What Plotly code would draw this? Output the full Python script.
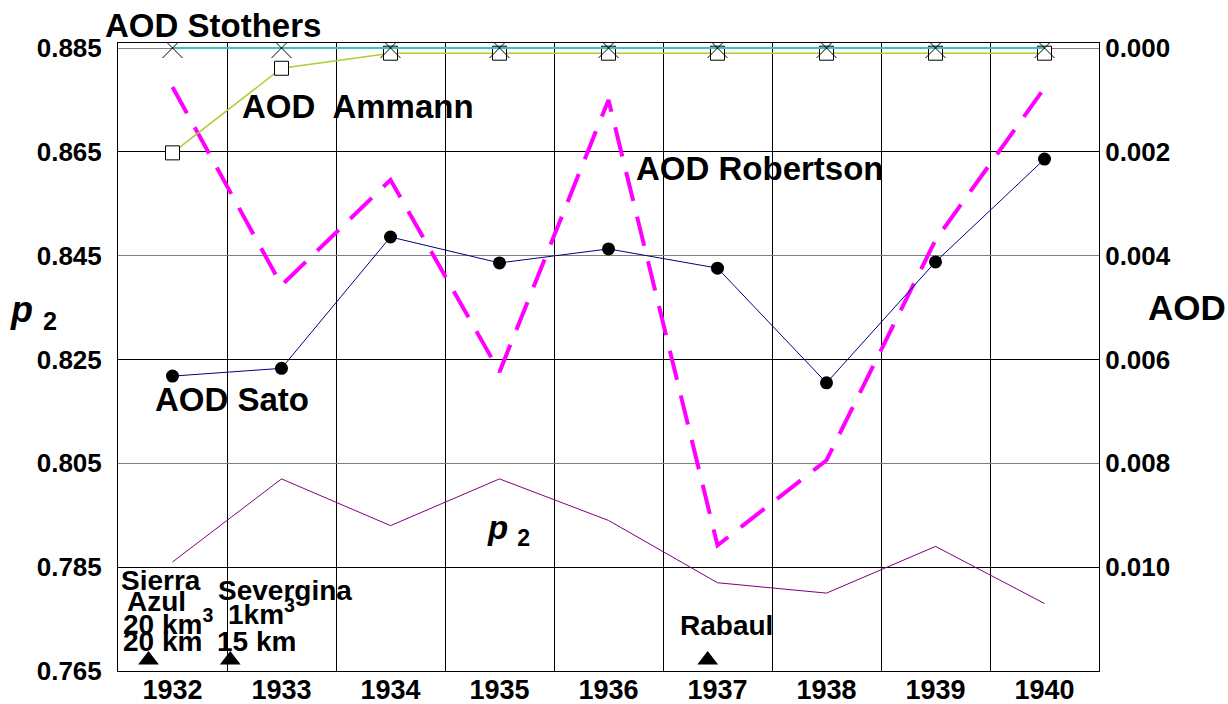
import plotly.graph_objects as go

# ---- data ----
years = [1932, 1933, 1934, 1935, 1936, 1937, 1938, 1939, 1940]

p2 = [0.786, 0.802, 0.793, 0.802, 0.794, 0.782, 0.780, 0.789, 0.778]

aod_sato = [0.00632, 0.00617, 0.00364, 0.00414, 0.00387, 0.00424, 0.00645, 0.00412, 0.00214]
aod_robertson = [0.00075, 0.00457, 0.00254, 0.00624, 0.00100, 0.00958, 0.00794, 0.00370, 0.00077]
aod_ammann = [0.00202, 0.00039, 0.0001, 0.0001, 0.0001, 0.0001, 0.0001, 0.0001, 0.0001]
aod_stothers = [0.0, 0.0, 0.0, 0.0, 0.0, 0.0, 0.0, 0.0, 0.0]

# eruption markers (decimal year) drawn along the bottom of the p2 axis
eruption_names = ["Sierra Azul", "Severgina", "Rabaul"]
eruption_x = [1931.78, 1932.53, 1936.91]
eruption_y = [0.7671, 0.7671, 0.7671]

p2_ticks = [0.765, 0.785, 0.805, 0.825, 0.845, 0.865, 0.885]
aod_ticks = [0.000, 0.002, 0.004, 0.006, 0.008, 0.010]

FONT = "Liberation Sans"

fig = go.Figure()

fig.add_trace(go.Scatter(
    x=years, y=p2, mode="lines", name="p2",
    line=dict(color="#800080", width=1), yaxis="y"))

fig.add_trace(go.Scatter(
    x=years, y=aod_robertson, mode="lines", name="AOD Robertson",
    line=dict(color="#ff00ff", width=4, dash="30px,16px"), yaxis="y2"))

fig.add_trace(go.Scatter(
    x=years, y=aod_sato, mode="lines+markers", name="AOD Sato",
    line=dict(color="#000080", width=1),
    marker=dict(color="black", size=13, symbol="circle"), yaxis="y2"))

fig.add_trace(go.Scatter(
    x=years, y=aod_ammann, mode="lines+markers", name="AOD Ammann",
    line=dict(color="#a8d030", width=1.5),
    marker=dict(color="white", size=14, symbol="square",
                line=dict(color="black", width=1)), yaxis="y2"))

fig.add_trace(go.Scatter(
    x=years, y=aod_stothers, mode="lines+markers", name="AOD Stothers",
    line=dict(color="#40c0c0", width=2),
    marker=dict(color="black", size=20, symbol="x-thin",
                line=dict(color="black", width=1)), yaxis="y2"))

fig.add_trace(go.Scatter(
    x=eruption_x, y=eruption_y, mode="markers", name="eruptions",
    marker=dict(color="black", size=18, symbol="triangle-up"), yaxis="y"))

tick_font = dict(family=FONT, size=26, color="black", weight="bold")

fig.update_layout(
    width=1228, height=704,
    margin=dict(l=118, r=129, t=43, b=33),
    paper_bgcolor="white", plot_bgcolor="white",
    showlegend=False,
    font=dict(family=FONT, color="black"),
    xaxis=dict(
        range=[years[0] - 0.5, years[-1] + 0.5],
        tickmode="array", tickvals=years, ticktext=[str(y) for y in years],
        tickfont=dict(family=FONT, size=27, color="black", weight="bold"),
        showgrid=False, zeroline=False, ticks="", automargin=False,
        ticklabelstandoff=-5,
        showline=True, linecolor="black", linewidth=1, mirror=True,
        minor=dict(tickmode="array", tickvals=[y + 0.5 for y in years[:-1]],
                   showgrid=True, gridcolor="black", gridwidth=1, ticks=""),
    ),
    yaxis=dict(
        range=[0.765, 0.88596],
        tickmode="array", tickvals=p2_ticks, ticktext=[f"{v:.3f}" for v in p2_ticks],
        tickfont=tick_font, ticklabelstandoff=10, automargin=False,
        showgrid=False, zeroline=False, ticks="",
        showline=True, linecolor="black", linewidth=1,
        minor=dict(tickmode="array", tickvals=[0.785, 0.825, 0.865],
                   showgrid=True, gridcolor="black", gridwidth=1, ticks=""),
    ),
    yaxis2=dict(
        overlaying="y", side="right",
        range=[0.012, -0.0000963],
        tickmode="array", tickvals=aod_ticks, ticktext=[f"{v:.3f}" for v in aod_ticks],
        tickfont=tick_font, ticklabelstandoff=0, automargin=False,
        showgrid=False, zeroline=False, ticks="",
        showline=True, linecolor="black", linewidth=1,
        minor=dict(tickmode="array", tickvals=[0.000, 0.004, 0.008],
                   showgrid=True, gridcolor="#808080", gridwidth=1, ticks=""),
    ),
)


def px_x(px):
    return (px - 118) / 981


def px_y(py):
    return (671 - py) / 628


def label(text, x, y, size, xanchor="left"):
    fig.add_annotation(
        text=text, xref="paper", yref="paper", x=px_x(x), y=px_y(y),
        xanchor=xanchor, yanchor="middle", showarrow=False,
        font=dict(family=FONT, size=size, color="black", weight="bold"))


# series labels
label("AOD Stothers", 103, 26, 33)
label("AOD  Ammann", 240, 106, 33)
label("AOD Robertson", 634, 168, 33)
label("AOD Sato", 153, 400, 33)
label("<i>p</i> <sub>2</sub>", 485, 530, 33)

# axis titles
label("<i>p</i> <sub>2</sub>", 8, 312, 36)
label("AOD", 1146, 307, 35)

# volcano annotations
label("Sierra", 119, 580, 28)
label("Azul", 125, 601, 28)
label("20 km<sup>3</sup>", 121, 622, 28)
label("20 km", 121, 641, 28)
label("Severgina", 216, 590, 28)
label("1km<sup>3</sup>", 226, 612, 28)
label("15 km", 215, 641, 28)
label("Rabaul", 678, 625, 28)

fig.write_html("out.html")
